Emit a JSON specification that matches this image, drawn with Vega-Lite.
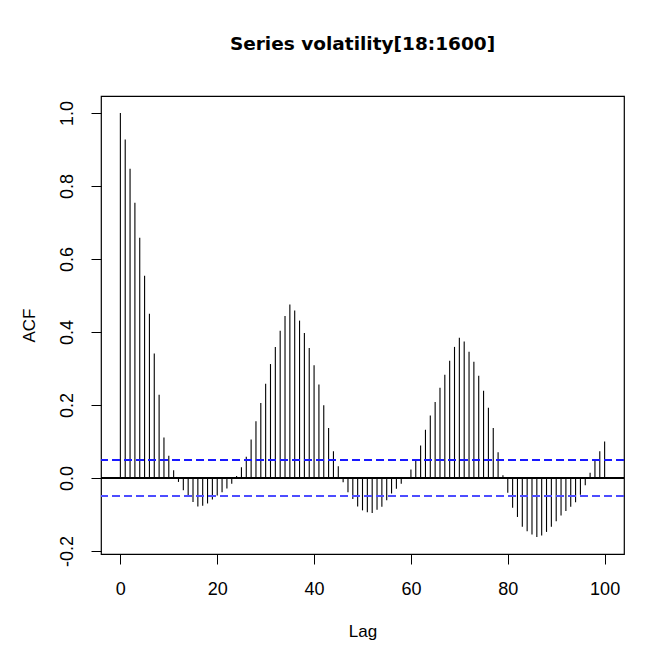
{
  "$schema": "https://vega.github.io/schema/vega-lite/v6.json",
  "autosize": {"type": "none"},
  "padding": {"left": 101, "top": 96, "right": 37, "bottom": 108},
  "width": 523,
  "height": 458,
  "background": "white",
  "title": {
    "text": "Series  volatility[18:1600]",
    "font": "DejaVu Sans",
    "fontWeight": "bold",
    "fontSize": 18.5,
    "color": "#000000",
    "anchor": "middle",
    "baseline": "alphabetic",
    "offset": 28
  },
  "config": {
    "view": {"stroke": "#000000", "strokeWidth": 1.2},
    "axis": {
      "labelFont": "Liberation Sans",
      "titleFont": "Liberation Sans",
      "labelFontSize": 18,
      "titleFontSize": 17,
      "titleFontWeight": "normal",
      "labelColor": "#000000",
      "titleColor": "#000000",
      "tickColor": "#000000",
      "tickSize": 10,
      "tickWidth": 1,
      "grid": false,
      "domain": false
    }
  },
  "data": {
    "values": [
      {"lag": 0, "acf": 1.0}, {"lag": 1, "acf": 0.927}, {"lag": 2, "acf": 0.847}, {"lag": 3, "acf": 0.754},
      {"lag": 4, "acf": 0.658}, {"lag": 5, "acf": 0.554}, {"lag": 6, "acf": 0.45}, {"lag": 7, "acf": 0.341},
      {"lag": 8, "acf": 0.228}, {"lag": 9, "acf": 0.111}, {"lag": 10, "acf": 0.061}, {"lag": 11, "acf": 0.021},
      {"lag": 12, "acf": -0.011}, {"lag": 13, "acf": -0.034}, {"lag": 14, "acf": -0.05}, {"lag": 15, "acf": -0.066},
      {"lag": 16, "acf": -0.078}, {"lag": 17, "acf": -0.076}, {"lag": 18, "acf": -0.07}, {"lag": 19, "acf": -0.059},
      {"lag": 20, "acf": -0.048}, {"lag": 21, "acf": -0.039}, {"lag": 22, "acf": -0.029}, {"lag": 23, "acf": -0.016},
      {"lag": 24, "acf": 0.005}, {"lag": 25, "acf": 0.029}, {"lag": 26, "acf": 0.058}, {"lag": 27, "acf": 0.105},
      {"lag": 28, "acf": 0.155}, {"lag": 29, "acf": 0.205}, {"lag": 30, "acf": 0.258}, {"lag": 31, "acf": 0.312},
      {"lag": 32, "acf": 0.359}, {"lag": 33, "acf": 0.403}, {"lag": 34, "acf": 0.444}, {"lag": 35, "acf": 0.475},
      {"lag": 36, "acf": 0.459}, {"lag": 37, "acf": 0.431}, {"lag": 38, "acf": 0.397}, {"lag": 39, "acf": 0.356},
      {"lag": 40, "acf": 0.309}, {"lag": 41, "acf": 0.256}, {"lag": 42, "acf": 0.199}, {"lag": 43, "acf": 0.137},
      {"lag": 44, "acf": 0.073}, {"lag": 45, "acf": 0.032}, {"lag": 46, "acf": -0.012}, {"lag": 47, "acf": -0.039},
      {"lag": 48, "acf": -0.058}, {"lag": 49, "acf": -0.078}, {"lag": 50, "acf": -0.089}, {"lag": 51, "acf": -0.094},
      {"lag": 52, "acf": -0.096}, {"lag": 53, "acf": -0.087}, {"lag": 54, "acf": -0.079}, {"lag": 55, "acf": -0.061},
      {"lag": 56, "acf": -0.043}, {"lag": 57, "acf": -0.03}, {"lag": 58, "acf": -0.016}, {"lag": 59, "acf": 0.001},
      {"lag": 60, "acf": 0.023}, {"lag": 61, "acf": 0.046}, {"lag": 62, "acf": 0.089}, {"lag": 63, "acf": 0.132},
      {"lag": 64, "acf": 0.171}, {"lag": 65, "acf": 0.208}, {"lag": 66, "acf": 0.247}, {"lag": 67, "acf": 0.283},
      {"lag": 68, "acf": 0.321}, {"lag": 69, "acf": 0.359}, {"lag": 70, "acf": 0.384}, {"lag": 71, "acf": 0.374},
      {"lag": 72, "acf": 0.346}, {"lag": 73, "acf": 0.318}, {"lag": 74, "acf": 0.28}, {"lag": 75, "acf": 0.239},
      {"lag": 76, "acf": 0.192}, {"lag": 77, "acf": 0.137}, {"lag": 78, "acf": 0.07}, {"lag": 79, "acf": 0.007},
      {"lag": 80, "acf": -0.041}, {"lag": 81, "acf": -0.082}, {"lag": 82, "acf": -0.107}, {"lag": 83, "acf": -0.134},
      {"lag": 84, "acf": -0.146}, {"lag": 85, "acf": -0.155}, {"lag": 86, "acf": -0.162}, {"lag": 87, "acf": -0.158},
      {"lag": 88, "acf": -0.148}, {"lag": 89, "acf": -0.134}, {"lag": 90, "acf": -0.119}, {"lag": 91, "acf": -0.103},
      {"lag": 92, "acf": -0.091}, {"lag": 93, "acf": -0.079}, {"lag": 94, "acf": -0.067}, {"lag": 95, "acf": -0.046},
      {"lag": 96, "acf": -0.02}, {"lag": 97, "acf": 0.014}, {"lag": 98, "acf": 0.047}, {"lag": 99, "acf": 0.073},
      {"lag": 100, "acf": 0.1}
    ]
  },
  "layer": [
    {
      "mark": {"type": "rule", "color": "#000000", "strokeWidth": 1.1},
      "encoding": {
        "x": {
          "field": "lag", "type": "quantitative",
          "scale": {"domain": [-4, 104], "nice": false, "zero": false},
          "axis": {"values": [0, 20, 40, 60, 80, 100], "title": "Lag", "labelPadding": 16, "titlePadding": 25, "labelFlush": false}
        },
        "y": {
          "field": "acf", "type": "quantitative",
          "scale": {"domain": [-0.2085, 1.0465], "nice": false, "zero": false},
          "axis": {
            "values": [-0.2, 0, 0.2, 0.4, 0.6, 0.8, 1.0],
            "title": "ACF",
            "labelAngle": -90,
            "labelAlign": "center",
            "labelBaseline": "bottom",
            "labelPadding": 15,
            "titlePadding": 20,
            "labelFlush": false,
            "labelExpr": "replace(format(datum.value, '.1f'), '\u2212', '-')"
          }
        },
        "y2": {"datum": 0}
      }
    },
    {
      "mark": {"type": "rule", "color": "#000000", "strokeWidth": 1.2},
      "encoding": {"y": {"datum": 0}}
    },
    {
      "mark": {"type": "rule", "color": "#1a1aff", "strokeWidth": 1.2, "strokeDash": [8, 4]},
      "encoding": {"y": {"datum": 0.049}}
    },
    {
      "mark": {"type": "rule", "color": "#4d4dff", "strokeWidth": 1.4, "strokeDash": [8, 4]},
      "encoding": {"y": {"datum": -0.049}}
    }
  ]
}
